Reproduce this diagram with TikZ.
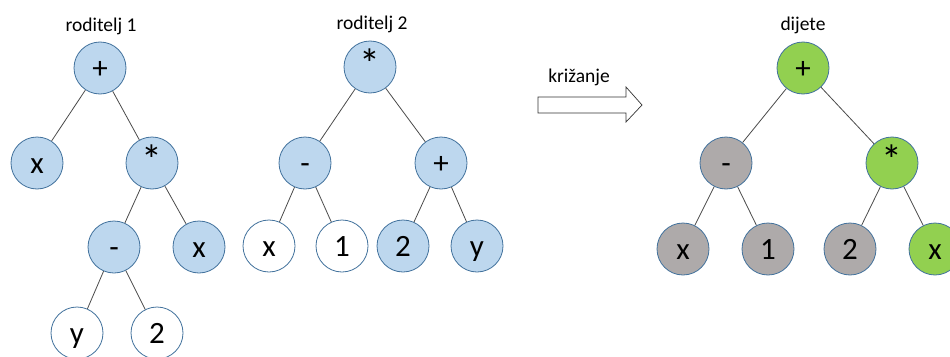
\documentclass[tikz,border=0pt]{standalone}
\usepackage{fontspec}
\setmainfont{Carlito}
\definecolor{nblue}{HTML}{BDD7EE}
\definecolor{ngreen}{HTML}{92D050}
\definecolor{ngray}{HTML}{AEAAAA}
\definecolor{nborder}{HTML}{41719C}
\definecolor{edgec}{HTML}{4A4A4A}
\newcommand{\bigast}{\raisebox{-1pt}{\scalebox{1.35}{*}}}
\begin{document}
\begin{tikzpicture}[x=1pt,y=-1pt,
  tn/.style={circle,draw=nborder,line width=0.8pt,minimum size=52pt,inner sep=0pt,
    text height=24pt,text depth=4pt,font=\fontsize{31}{34}\selectfont},
  bl/.style={tn,fill=nblue},
  gr/.style={tn,fill=ngreen},
  gy/.style={tn,fill=ngray},
  wh/.style={tn,fill=white},
  lbl/.style={font=\fontsize{19.5}{22}\selectfont,inner sep=0pt},
  ed/.style={draw=edgec,line width=0.8pt}]
\useasboundingbox (0,0) rectangle (950,356);
\clip (0,0) rectangle (950,356);
% tree 1
\node[lbl] (l1) at (101,26) {roditelj 1};
\node[bl] (a) at (100,68) {+};
\node[bl] (ax) at (37,163) {x};
\node[bl] (am) at (152,163) {\bigast};
\node[bl] (amm) at (114,247) {-};
\node[bl] (amx) at (199,247) {x};
\node[wh] (ay) at (77,333) {y};
\node[wh] (a2) at (157,333) {2};
\draw[ed] (a) -- (ax) (a) -- (am) (am) -- (amm) (am) -- (amx) (amm) -- (ay) (amm) -- (a2);
% tree 2
\node[lbl] (l2) at (372,24) {roditelj 2};
\node[bl] (b) at (370,67) {\bigast};
\node[bl] (bm) at (305,163) {-};
\node[bl] (bp) at (441,163) {+};
\node[wh] (bx) at (269,246) {x};
\node[wh] (b1) at (342,246) {1};
\node[bl] (b2) at (403,246) {2};
\node[bl] (by) at (477,246) {y};
\draw[ed] (b) -- (bm) (b) -- (bp) (bm) -- (bx) (bm) -- (b1) (bp) -- (b2) (bp) -- (by);
% arrow
\node[lbl] (kr) at (579,77) {križanje};
\draw[line width=0.7pt,draw=black!80,fill=white] (538,97) -- (626,97) -- (626,87) -- (642,105) -- (626,122) -- (626,113) -- (538,113) -- cycle;
% tree 3
\node[lbl] (l3) at (803,25) {dijete};
\node[gr] (c) at (803,68) {+};
\node[gy] (cm) at (726,163) {-};
\node[gr] (cs) at (892,163) {\bigast};
\node[gy] (cx) at (683,249) {x};
\node[gy] (c1) at (768,249) {1};
\node[gy] (c2) at (850,249) {2};
\node[gr] (cx2) at (935,249) {x};
\draw[ed] (c) -- (cm) (c) -- (cs) (cm) -- (cx) (cm) -- (c1) (cs) -- (c2) (cs) -- (cx2);
\end{tikzpicture}
\end{document}
